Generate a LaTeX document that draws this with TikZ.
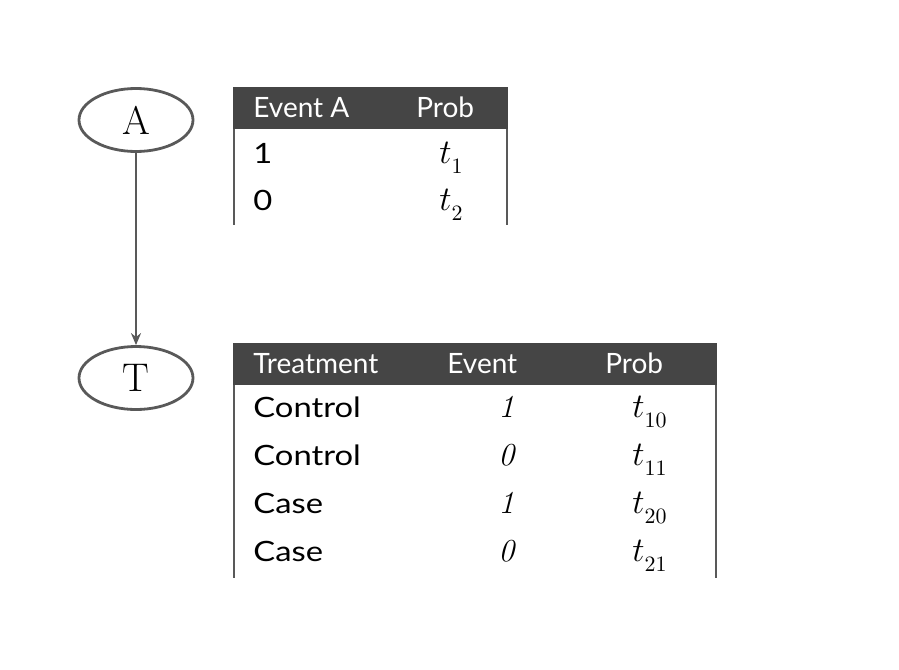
\documentclass[tikz,border=0pt]{standalone}
\usepackage{fontspec}
\setsansfont{Lato}
\newfontfamily\cellfont{Lato}[FakeStretch=1.17]
\usetikzlibrary{shapes.geometric,arrows.meta}
\definecolor{headgray}{HTML}{454545}
\definecolor{linegray}{HTML}{595959}
\tikzset{
  var/.style={ellipse, draw=linegray, line width=1.4pt, minimum width=57pt,
    minimum height=31.5pt, inner sep=0pt, font=\fontsize{20}{24}\selectfont},
  headtxt/.style={anchor=base west, inner sep=0pt, text=white,
    font=\sffamily\fontsize{14}{16}\selectfont},
  celltxt/.style={anchor=base west, inner sep=0pt,
    font=\cellfont\fontsize{14}{16}\selectfont},
  probtxt/.style={anchor=base west, inner sep=0pt, font=\fontsize{16}{18}\selectfont},
  side/.style={linegray, line width=1pt}
}
\newcommand{\tsub}[1]{$t_{\raisebox{-2.5pt}{$\scriptstyle #1$}}$}
\begin{document}
\begin{tikzpicture}[x=0.5pt,y=-0.5pt]
  \useasboundingbox (0,0) rectangle (899,669);
  % variables
  \node[var] (A) at (136,120) {A};
  \node[var] (T) at (136,378) {T};
  \draw[-{Stealth[length=6pt,width=5pt]}, linegray, line width=1pt] (A) -- (T);
  % table of A
  \fill[headgray] (233,87) rectangle (508,129);
  \draw[side] (234,129) -- (234,225);
  \draw[side] (507,129) -- (507,225);
  \node[headtxt] (hA) at (253,117) {Event A};
  \node[headtxt] (hAp) at (416,117) {Prob};
  \foreach \v/\p [count=\i] in {1/1,0/2} {
    \node[celltxt] (a\i) at (253,163+47*\i-47) {\v};
    \node[probtxt] (pa\i) at (439,163+47*\i-47) {\tsub{\p}};
  }
  % table of T
  \fill[headgray] (233,343) rectangle (717,385);
  \draw[side] (234,385) -- (234,578);
  \draw[side] (716,385) -- (716,578);
  \node[headtxt] (hT) at (253,373) {Treatment};
  \node[headtxt] (hE) at (447,373) {Event};
  \node[headtxt] (hP) at (605,373) {Prob};
  \foreach \t/\e/\p [count=\i] in {Control/1/10,Control/0/11,Case/1/20,Case/0/21} {
    \node[celltxt] (t\i) at (253,417+48*\i-48) {\t};
    \node[probtxt] (e\i) at (498,417+48*\i-48) {\itshape\e};
    \node[probtxt] (p\i) at (632,417+48*\i-48) {\tsub{\p}};
  }
\end{tikzpicture}
\end{document}
